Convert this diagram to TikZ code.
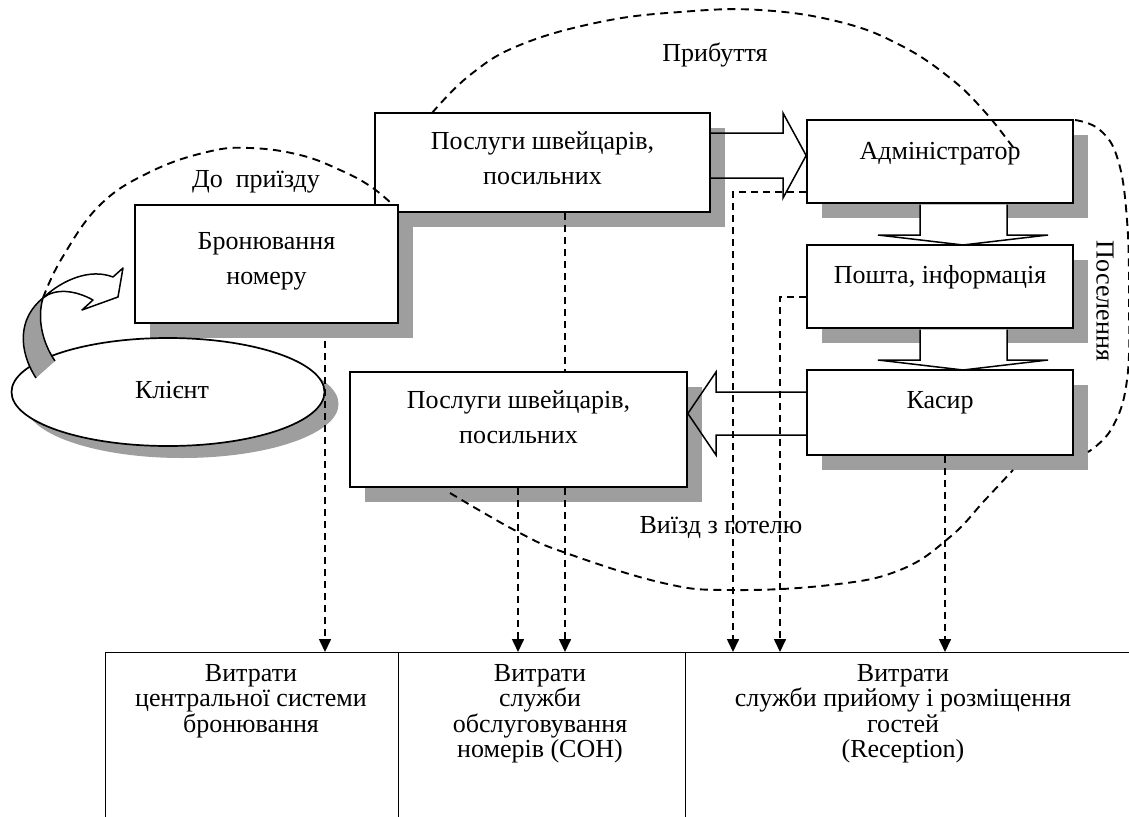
\documentclass[tikz,border=0pt]{standalone}
\usepackage{fontspec}
\setmainfont{Liberation Serif}
\usetikzlibrary{arrows.meta,shapes.geometric,shadows}
\begin{document}
\begin{tikzpicture}[x=1pt,y=-1pt,
  box/.style={draw=black, line width=1.7pt, fill=white, rectangle, inner sep=0pt,
    drop shadow={shadow xshift=15pt, shadow yshift=-15pt, fill=black!38, opacity=1, draw=none}},
  cell/.style={draw=black, line width=1.4pt, rectangle, inner sep=0pt, anchor=north west},
  txt/.style={font=\fontsize{26}{35}\selectfont, align=center, inner sep=0pt},
  ttxt/.style={font=\fontsize{26}{25.5}\selectfont, align=center, inner sep=0pt, anchor=north},
  dline/.style={dash pattern=on 7pt off 5pt, line width=1.6pt},
  arcline/.style={dash pattern=on 8pt off 5.5pt, line width=1.9pt},
  arr/.style={dline, -{Triangle[length=13pt,width=12pt]}},
  blk/.style={line width=1.5pt, line join=miter}
]
\clip (0,0) rectangle (1129,816);
\fill[white] (0,0) rectangle (1129,816);

% column coordinates
\coordinate (x325) at (325,0);
\coordinate (x518) at (518,0);
\coordinate (x565) at (565,0);
\coordinate (x733) at (733,0);
\coordinate (x780) at (780,0);
\coordinate (x945) at (945,0);

% boxes
\node[box, minimum width=335pt, minimum height=99pt] (pt) at (542.5,162.5) {};
\node[txt] (ptT) at ([yshift=4pt]pt.center) {Послуги швейцарів,\\посильних};
\node[box, minimum width=263pt, minimum height=118pt] (bron) at (266.5,264) {};
\node[txt] (bronT) at ([yshift=3pt]bron.center) {Бронювання\\номеру};
\node[box, minimum width=266pt, minimum height=83pt] (adm) at (940,161.5) {};
\node[txt] (admT) at ([yshift=8pt]adm.center) {Адміністратор};
\node[box, minimum width=266pt, minimum height=83pt] (post) at (940,286.5) {};
\node[txt] (postT) at ([yshift=9pt]post.center) {Пошта, інформація};
\node[box, minimum width=266pt, minimum height=85pt] (kas) at (940,412.5) {};
\node[txt] (kasT) at ([yshift=10pt]kas.center) {Касир};
\node[box, minimum width=337pt, minimum height=115pt] (pb) at (518.5,429.5) {};
\node[txt] (pbT) at ([yshift=12pt]pb.center) {Послуги швейцарів,\\посильних};

% client ellipse
\node[draw=black, line width=1.7pt, fill=white, ellipse, inner sep=0pt,
  minimum width=313pt, minimum height=108pt,
  drop shadow={shadow xshift=14pt, shadow yshift=-12pt, fill=black!38, opacity=1, draw=none}]
  (client) at (168,392) {};
\node[txt] (clientT) at (172,390) {Клієнт};

% curved block arrow from client to booking
\fill[black!38] (36,378) .. controls (18,350) and (18,318) .. (43,298)
  .. controls (37,318) and (42,342) .. (55,361) -- cycle;
\draw[blk, line join=round] (36,378) .. controls (18,350) and (18,318) .. (43,298)
  .. controls (62,280) and (90,268) .. (113,277) -- (123,268) -- (118,297) -- (82,310)
  -- (93,300) .. controls (75,290) and (55,288) .. (43,298)
  .. controls (37,318) and (42,342) .. (55,361);

% block arrows
\draw[blk] (pt.east |- 0,133) -- (783,133) -- (783,113) -- (adm.west |- 0,155.5)
  -- (783,198) -- (783,178) -- (pt.east |- 0,178);
\draw[blk] (kas.west |- 0,392) -- (716,392) -- (716,372) -- (pb.east |- 0,413.5)
  -- (716,455) -- (716,435) -- (kas.west |- 0,435);
\draw[blk, fill=white] (920,204.5) -- (920,235) -- (878,235) -- (963,245) -- (1048,235)
  -- (1007,235) -- (1007,204.5);
\draw[blk, fill=white] (920,329.5) -- (920,360) -- (878,360) -- (963,370) -- (1048,360)
  -- (1007,360) -- (1007,329.5);

% table of costs
\node[cell, minimum width=293pt, minimum height=220pt] (c1) at (105,652) {};
\node[cell, minimum width=287pt, minimum height=220pt] (c2) at (398,652) {};
\node[cell, minimum width=470pt, minimum height=220pt] (c3) at (685,652) {};
\node[ttxt] (c1T) at (251,664) {Витрати\\центральної системи\\бронювання};
\node[ttxt] (c2T) at (540,664) {Витрати\\служби\\обслуговування\\номерів (СОН)};
\node[ttxt] (c3T) at (903,664) {Витрати\\служби прийому і розміщення\\гостей\\(Reception)};

% dashed connectors
\coordinate (s1) at ([yshift=-17pt]bron.south -| x325);
\draw[arr] (s1) -- (c1.north -| x325);
\draw[dline] (pt.south -| x565) -- (pb.north -| x565);
\draw[arr] (pb.south -| x518) -- (c2.north -| x518);
\draw[arr] (pb.south -| x565) -- (c2.north -| x565);
\draw[arr] ([yshift=-30.5pt]adm.west) -| (c3.north -| x733);
\draw[arr] ([yshift=-10.5pt]post.west) -| (c3.north -| x780);
\draw[arr] (kas.south -| x945) -- (c3.north -| x945);

% dashed stage arcs
\draw[arcline] plot[smooth, tension=0.7] coordinates {(43,298) (62,258) (100,205) (150,172)
  (207,152) (250,148) (300,155) (340,170) (370,186) (392,204)};
\draw[arcline] plot[smooth, tension=0.7] coordinates {(432,113) (470,75) (520,45) (600,22)
  (680,12) (760,10) (840,22) (900,45) (950,78) (985,112) (1015,150)};
\draw[arcline] plot[smooth, tension=0.7] coordinates {(1075,120) (1100,130) (1118,160)
  (1127,220) (1129,300) (1127,380) (1112,428) (1088,452)};
\draw[arcline] plot[smooth, tension=0.7] coordinates {(450,493) (518,532) (566,553) (663,583)
  (730,590) (830,585) (900,570) (950,537) (985,500) (1013,470)};

% stage labels
\node[txt] (lbl1) at (715,55) {Прибуття};
\node[txt] (lbl2) at (256,182) {До\ \ приїзду};
\node[txt, rotate=-90] (lbl3) at (1105,301) {Поселення};
\node[txt] (lbl4) at (721,527) {Виїзд з готелю};
\end{tikzpicture}
\end{document}
